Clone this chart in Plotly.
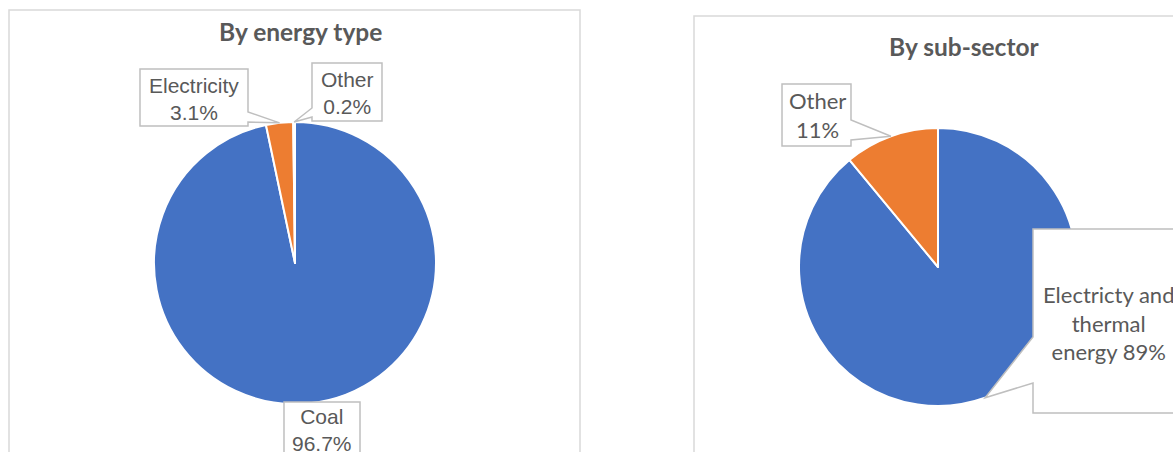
import math
import plotly.graph_objects as go

W, H = 1173, 452

# ---- data ----
left_title = "By energy type"
left_labels = ["Coal", "Electricity", "Other"]
left_values = [96.7, 3.1, 0.2]
left_text = ["Coal<br>96.7%", "Electricity<br>3.1%", "Other<br>0.2%"]

right_title = "By sub-sector"
right_labels = ["Electricty and thermal energy", "Other"]
right_values = [89, 11]
right_text = ["Electricty and<br>thermal<br>energy 89%", "Other<br>11%"]

colors = ["#4472C4", "#ED7D31", "#A5A5A5"]
TXT = "#595959"


def px(x):
    return x / W


def py(y):
    return 1 - y / H


# pie geometry (pixels)
L_CX, L_CY, L_R = 295, 263, 141
R_CX, R_CY, R_R = 938, 267, 139


def mid_point(values, i, cx, cy, r):
    tot = sum(values)
    start = sum(values[:i]) / tot * 360
    ang = math.radians(start + values[i] / tot * 180)
    return cx + r * math.sin(ang), cy - r * math.cos(ang)


fig = go.Figure()
fig.add_trace(go.Pie(
    labels=left_labels, values=left_values, sort=False, direction="clockwise",
    rotation=0, textinfo="none", hoverinfo="label+percent",
    marker=dict(colors=colors, line=dict(color="white", width=2)),
    domain=dict(x=[px(L_CX - L_R), px(L_CX + L_R)], y=[py(L_CY + L_R), py(L_CY - L_R)]),
    showlegend=False,
))
fig.add_trace(go.Pie(
    labels=right_labels, values=right_values, sort=False, direction="clockwise",
    rotation=0, textinfo="none", hoverinfo="label+percent",
    marker=dict(colors=colors[:2], line=dict(color="white", width=2)),
    domain=dict(x=[px(R_CX - R_R), px(R_CX + R_R)], y=[py(R_CY + R_R), py(R_CY - R_R)]),
    showlegend=False,
))

shapes = []
# panel borders
shapes.append(dict(type="rect", xref="paper", yref="paper", layer="below",
                   x0=px(9), x1=px(580), y0=py(470), y1=py(10),
                   line=dict(color="#D9D9D9", width=1.5), fillcolor="rgba(0,0,0,0)"))
shapes.append(dict(type="rect", xref="paper", yref="paper", layer="below",
                   x0=px(694), x1=px(1250), y0=py(470), y1=py(16),
                   line=dict(color="#D9D9D9", width=1.5), fillcolor="rgba(0,0,0,0)"))


def callout(x0, y0, x1, y1, tip=None, side=None, a=None, b=None):
    pts = [(x0, y0)]
    if side == "top":
        pts += [(a, y0), tip, (b, y0)]
    pts.append((x1, y0))
    if side == "right":
        pts += [(x1, a), tip, (x1, b)]
    pts.append((x1, y1))
    if side == "bottom":
        pts += [(b, y1), tip, (a, y1)]
    pts.append((x0, y1))
    if side == "left":
        pts += [(x0, b), tip, (x0, a)]
    path = "M " + " L ".join(f"{px(x):.5f},{py(y):.5f}" for x, y in pts) + " Z"
    shapes.append(dict(type="path", xref="paper", yref="paper", path=path, layer="above",
                       line=dict(color="#BFBFBF", width=1.5), fillcolor="white"))


annotations = []


def label(text, x, y, font, size):
    annotations.append(dict(text=text, x=px(x), y=py(y), xref="paper", yref="paper",
                            showarrow=False, xanchor="center", yanchor="middle",
                            align="center", font=dict(family=font, size=size, color=TXT)))


LF = "Liberation Sans"
RF = "Lato"

# left callouts
tip_e = mid_point(left_values, 1, L_CX, L_CY, L_R)
tip_o = mid_point(left_values, 2, L_CX, L_CY, L_R)
callout(140, 69, 248, 126, tip_e, "right", 112, 122)
callout(312, 63, 382, 121, tip_o, "left", 108, 117)
callout(284, 402, 360, 480)
label(left_text[1], 194, 99, LF, 21)
label(left_text[2], 347, 93, LF, 21)
label(left_text[0], 322, 430, LF, 21)

# right callouts
tip_ro = mid_point(right_values, 1, R_CX, R_CY, R_R)
tip_rb = mid_point(right_values, 0, R_CX, R_CY, R_R)
callout(782, 84, 851, 146, tip_ro, "right", 120, 140)
callout(1033, 229, 1200, 413, tip_rb, "left", 337, 383)
label(right_text[1], 817, 115, RF, 22)
label(right_text[0], 1108, 323, RF, 22)

# titles
annotations.append(dict(text=f"<b>{left_title}</b>", x=px(300), y=py(31), xref="paper", yref="paper",
                        showarrow=False, xanchor="center", yanchor="middle",
                        font=dict(family=RF, size=24.5, color=TXT)))
annotations.append(dict(text=f"<b>{right_title}</b>", x=px(964), y=py(46), xref="paper", yref="paper",
                        showarrow=False, xanchor="center", yanchor="middle",
                        font=dict(family=RF, size=24.5, color=TXT)))

fig.update_layout(
    width=W, height=H, margin=dict(l=0, r=0, t=0, b=0),
    paper_bgcolor="white", plot_bgcolor="white",
    shapes=shapes, annotations=annotations,
)
fig.write_html("out.html", config={"displayModeBar": False})
